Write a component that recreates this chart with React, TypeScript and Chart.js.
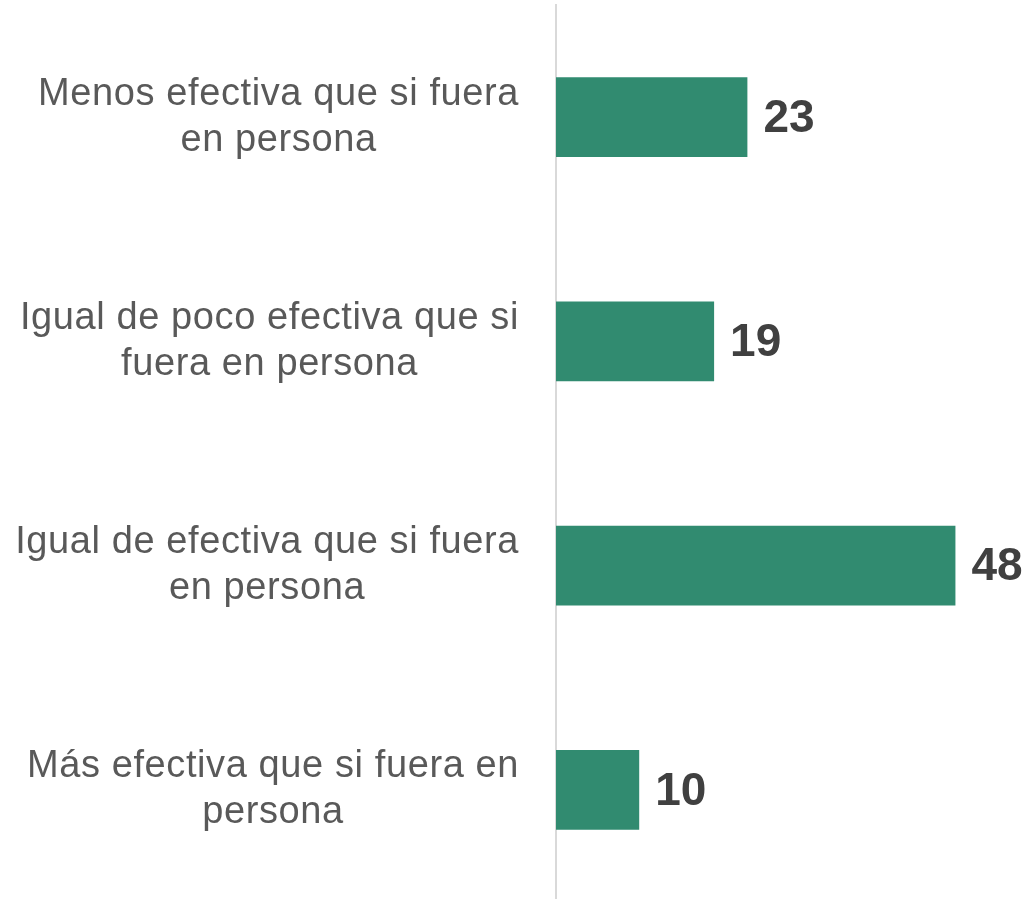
import React, { useEffect, useRef } from "react";
import { Chart, registerables } from "chart.js";

Chart.register(...registerables);

const categories: string[][] = [
  ["Menos efectiva que si fuera", "en persona"],
  ["Igual de poco efectiva que si", "fuera en persona"],
  ["Igual de efectiva que si fuera", "en persona"],
  ["Más efectiva que si fuera en", "persona"],
];
const values: number[] = [23, 19, 48, 10];

const labelFont = "38px 'Liberation Sans', Arial, sans-serif";
const valueFont = "bold 46px 'Liberation Sans', Arial, sans-serif";

const textPlugin = {
  id: "customText",
  afterDatasetsDraw(chart: any) {
    const ctx = chart.ctx as CanvasRenderingContext2D;
    const yScale = chart.scales.y;
    const meta = chart.getDatasetMeta(0);
    ctx.save();
    // category labels
    ctx.font = labelFont;
    (ctx as any).letterSpacing = "0.6px";
    ctx.fillStyle = "#595959";
    ctx.textAlign = "center";
    ctx.textBaseline = "middle";
    const lh = 46;
    categories.forEach((lines, i) => {
      const y = yScale.getPixelForValue(i);
      let widest = 0;
      lines.forEach((l) => {
        widest = Math.max(widest, ctx.measureText(l).width);
      });
      const cx = yScale.right - 37 - widest / 2;
      const y0 = y - ((lines.length - 1) * lh) / 2;
      lines.forEach((l, k) => ctx.fillText(l, cx, y0 + k * lh));
    });
    // value labels
    (ctx as any).letterSpacing = "0px";
    ctx.font = valueFont;
    ctx.fillStyle = "#404040";
    ctx.textAlign = "left";
    meta.data.forEach((bar: any, i: number) => {
      ctx.fillText(String(values[i]), bar.x + 16, bar.y + 2);
    });
    ctx.restore();
  },
};

export default function App() {
  const ref = useRef<HTMLCanvasElement | null>(null);
  useEffect(() => {
    if (!ref.current) return;
    const chart = new Chart(ref.current, {
      type: "bar",
      data: {
        labels: categories.map((c) => c.join(" ")),
        datasets: [
          {
            data: values,
            backgroundColor: "#318B70",
            borderWidth: 0,
            barPercentage: 0.355,
            categoryPercentage: 1,
          },
        ],
      },
      options: {
        indexAxis: "y",
        responsive: false,
        animation: false,
        devicePixelRatio: 1,
        layout: { padding: { top: 5, right: 9, left: 0, bottom: 0 } },
        plugins: {
          legend: { display: false },
          tooltip: { enabled: false },
        },
        scales: {
          x: { display: false, min: 0, max: 56 },
          y: {
            grid: { display: false, drawTicks: false },
            border: { display: true, color: "#d9d9d9", width: 2 },
            ticks: { display: false },
            afterFit: (scale: any) => {
              scale.width = 556;
            },
          },
        },
      },
      plugins: [textPlugin],
    });
    return () => chart.destroy();
  }, []);
  return (
    <div
      style={{
        position: "absolute",
        left: 0,
        top: 0,
        width: 1031,
        height: 899,
        overflow: "hidden",
        background: "#fff",
      }}
    >
      <canvas ref={ref} width={1031} height={902} style={{ display: "block" }} />
    </div>
  );
}
